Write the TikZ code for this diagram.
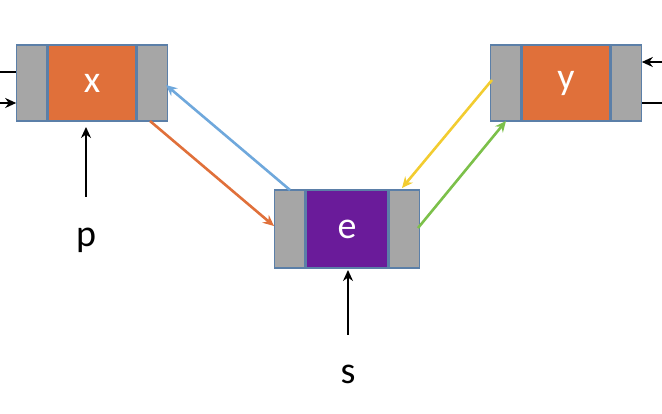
\documentclass[tikz,border=0pt]{standalone}
\usepackage{fontspec}
\setmainfont{Carlito}
\usetikzlibrary{arrows.meta}
\definecolor{org}{HTML}{E0703A}
\definecolor{gr}{HTML}{A6A6A6}
\definecolor{pur}{HTML}{6A1B9A}
\definecolor{bd}{HTML}{5B7FA8}
\definecolor{ablue}{HTML}{6FA8DC}
\definecolor{aorg}{HTML}{E0703A}
\definecolor{ayel}{HTML}{F2CC30}
\definecolor{agrn}{HTML}{7CC04A}
\begin{document}
\begin{tikzpicture}[x=1pt,y=-1pt,
  side/.style={draw=bd,fill=gr,line width=1.2pt,minimum width=30pt,minimum height=76pt,inner sep=0},
  mid/.style={draw=bd,line width=1.2pt,minimum width=88pt,minimum height=76pt,inner sep=0,text=white,font=\fontsize{38}{40}\selectfont},
  arr/.style={-{Stealth[length=11pt,width=10pt]},line width=2.6pt},
  lab/.style={font=\fontsize{38}{40}\selectfont}]
\useasboundingbox (0,0) rectangle (662,414);
% x node
\node[mid,fill=org] (x) at (92,83) {x};
\node[side,anchor=east] (xl) at (x.west) {};
\node[side,anchor=west] (xr) at (x.east) {};
% y node
\node[mid,fill=org] (y) at (566,83) {y};
\node[side,anchor=east] (yl) at (y.west) {};
\node[side,anchor=west] (yr) at (y.east) {};
% e node
\node[mid,fill=pur,minimum width=82pt,minimum height=78pt] (e) at (347,229) {e};
\node[side,anchor=east,minimum height=78pt] (el) at (e.west) {};
\node[side,anchor=west,minimum height=78pt] (er) at (e.east) {};
% edges
\coordinate (l1) at (0,72); \coordinate (l2) at (0,103);
\draw[line width=1.5pt] (l1) -- (xl.west |- l1);
\draw[arr] (l2) -- (xl.west |- l2);
\coordinate (r1) at (662,62); \coordinate (r2) at (662,103);
\draw[arr] (r1) -- (yr.east |- r1);
\draw[line width=1.5pt] (r2) -- (yr.east |- r2);
\draw[arr,ablue] (290,190) -- (166,85);
\draw[arr,aorg] (150,121) -- (274,226);
\draw[arr,ayel] (492,80) -- (402,188);
\draw[arr,agrn] (418,228) -- (506,121);
% pointers
\node[lab] (p) at (86,240) {p};
\node[lab] (s) at (348,374) {s};
\draw[arr,black] (86,197) -- (86,127);
\draw[arr,black] (348,335) -- (348,270);
\end{tikzpicture}
\end{document}
